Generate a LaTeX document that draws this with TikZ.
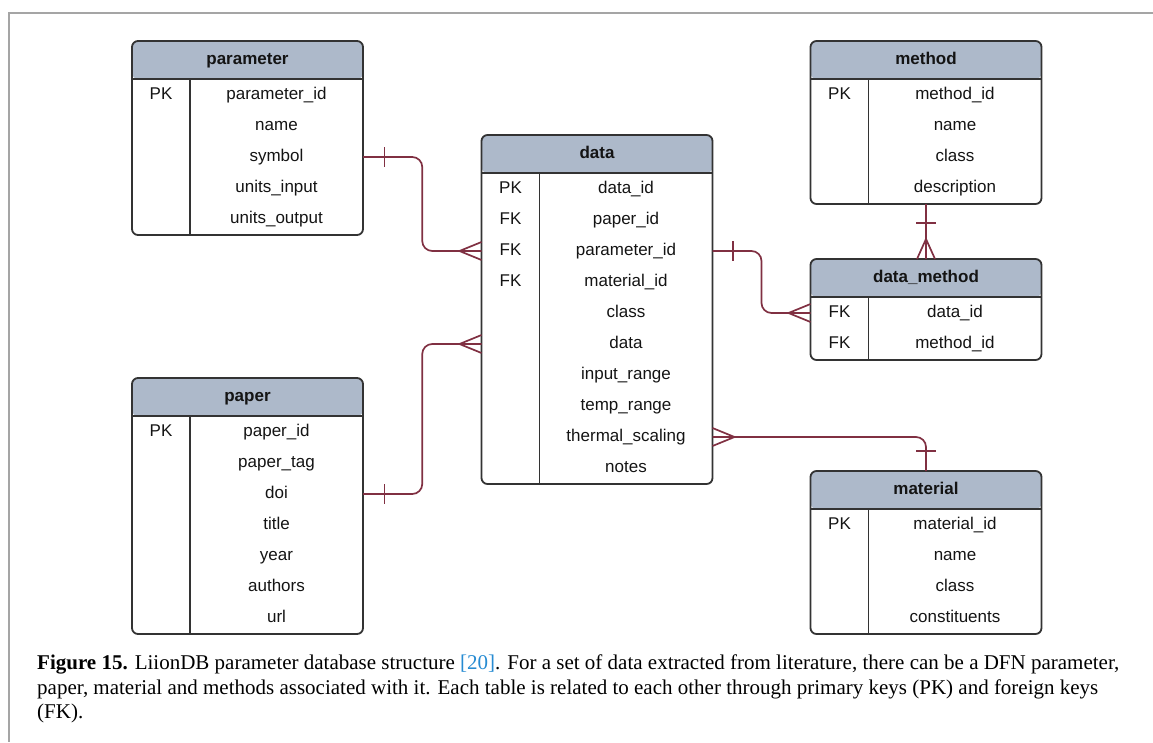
\documentclass[tikz,border=0pt]{standalone}
\usepackage{fontspec}
\setmainfont{Liberation Sans}
\newfontfamily\capfont{Liberation Serif}
\usepackage{tikz}
\usetikzlibrary{calc,positioning}

\definecolor{hdrblue}{RGB}{173,185,202}
\definecolor{edgegray}{RGB}{51,51,51}
\definecolor{relred}{RGB}{128,48,66}
\definecolor{citeblue}{RGB}{38,139,210}
\definecolor{framegray}{RGB}{165,165,165}

\begin{document}
\begin{tikzpicture}[
    x=1pt, y=-1pt,
    tbl/.style={rectangle, draw=edgegray, line width=1.8pt, rounded corners=6pt, minimum width=231pt,
      inner sep=0pt, outer sep=0pt,
      path picture={\fill[hdrblue] (path picture bounding box.north west) rectangle ($(path picture bounding box.north east)+(0,38)$);}},
    field/.style={font=\fontsize{17}{20}\selectfont, text height=12pt, text depth=3.5pt, inner sep=0pt, text=black!92},
    head/.style={field, font=\fontsize{17}{20}\selectfont\bfseries},
    sep/.style={draw=edgegray, line width=1.8pt},
    rel/.style={draw=relred, line width=1.7pt},
    route/.style={rel, rounded corners=10pt}
]
\useasboundingbox (0,0) rectangle (1153,742);
\draw[framegray, line width=1.3pt] (1153,13) -- (9,13) -- (9,742);

% parameter
\node[tbl, minimum height=194pt, anchor=north] (parameter) at (247.5,41) {};
\node[head] (parameter-h) at ($(parameter.north)+(0,19.5)$) {parameter};
\draw[sep] ($(parameter.north west)+(0,38)$) -- ($(parameter.north east)+(0,38)$);
\draw[sep] ($(parameter.north west)+(58,38)$) -- ($(parameter.south west)+(58,0)$);
\foreach \k/\f [count=\i] in {PK/parameter\_id, /name, /symbol, /units\_input, /units\_output}
  \node[field] (parameter-\i) at ($(parameter.north)+(29,23+31*\i)$) {\f}
    node[field] (parameter-k\i) at ($(parameter.north west)+(29,23+31*\i)$) {\k};

% paper
\node[tbl, minimum height=256pt, anchor=north] (paper) at (247.5,378) {};
\node[head] (paper-h) at ($(paper.north)+(0,19.5)$) {paper};
\draw[sep] ($(paper.north west)+(0,38)$) -- ($(paper.north east)+(0,38)$);
\draw[sep] ($(paper.north west)+(58,38)$) -- ($(paper.south west)+(58,0)$);
\foreach \k/\f [count=\i] in {PK/paper\_id, /paper\_tag, /doi, /title, /year, /authors, /url}
  \node[field] (paper-\i) at ($(paper.north)+(29,23+31*\i)$) {\f}
    node[field] (paper-k\i) at ($(paper.north west)+(29,23+31*\i)$) {\k};

% data
\node[tbl, minimum height=349pt, anchor=north] (data) at (597,135) {};
\node[head] (data-h) at ($(data.north)+(0,19.5)$) {data};
\draw[sep] ($(data.north west)+(0,38)$) -- ($(data.north east)+(0,38)$);
\draw[sep] ($(data.north west)+(58,38)$) -- ($(data.south west)+(58,0)$);
\foreach \k/\f [count=\i] in {PK/data\_id, FK/paper\_id, FK/parameter\_id, FK/material\_id, /class,
    /data, /input\_range, /temp\_range, /thermal\_scaling, /notes}
  \node[field] (data-\i) at ($(data.north)+(29,23+31*\i)$) {\f}
    node[field] (data-k\i) at ($(data.north west)+(29,23+31*\i)$) {\k};

% method
\node[tbl, minimum height=163pt, anchor=north] (method) at (926,41) {};
\node[head] (method-h) at ($(method.north)+(0,19.5)$) {method};
\draw[sep] ($(method.north west)+(0,38)$) -- ($(method.north east)+(0,38)$);
\draw[sep] ($(method.north west)+(58,38)$) -- ($(method.south west)+(58,0)$);
\foreach \k/\f [count=\i] in {PK/method\_id, /name, /class, /description}
  \node[field] (method-\i) at ($(method.north)+(29,23+31*\i)$) {\f}
    node[field] (method-k\i) at ($(method.north west)+(29,23+31*\i)$) {\k};

% data_method
\node[tbl, minimum height=101pt, anchor=north] (datamethod) at (926,259) {};
\node[head] (datamethod-h) at ($(datamethod.north)+(0,19.5)$) {data\_method};
\draw[sep] ($(datamethod.north west)+(0,38)$) -- ($(datamethod.north east)+(0,38)$);
\draw[sep] ($(datamethod.north west)+(58,38)$) -- ($(datamethod.south west)+(58,0)$);
\foreach \k/\f [count=\i] in {FK/data\_id, FK/method\_id}
  \node[field] (datamethod-\i) at ($(datamethod.north)+(29,23+31*\i)$) {\f}
    node[field] (datamethod-k\i) at ($(datamethod.north west)+(29,23+31*\i)$) {\k};

% material
\node[tbl, minimum height=163pt, anchor=north] (material) at (926,471) {};
\node[head] (material-h) at ($(material.north)+(0,19.5)$) {material};
\draw[sep] ($(material.north west)+(0,38)$) -- ($(material.north east)+(0,38)$);
\draw[sep] ($(material.north west)+(58,38)$) -- ($(material.south west)+(58,0)$);
\foreach \k/\f [count=\i] in {PK/material\_id, /name, /class, /constituents}
  \node[field] (material-\i) at ($(material.north)+(29,23+31*\i)$) {\f}
    node[field] (material-k\i) at ($(material.north west)+(29,23+31*\i)$) {\k};

% relations
\draw[route] (parameter.east |- parameter-3) -| ($(parameter.east |- parameter-3)!.5!(data.west |- data-3)$) |- (data.west |- data-3);
\draw[rel] ($(parameter.east |- parameter-3)+(21.5,-10)$) -- ++(0,20);
\draw[rel] ($(data.west |- data-3)+(0,-9)$) -- ++(-22,9) -- ++(22,9);

\draw[route] (paper.east |- paper-3) -| ($(paper.east |- paper-3)!.5!(data.west |- data-6)$) |- (data.west |- data-6);
\draw[rel] ($(paper.east |- paper-3)+(21.5,-10)$) -- ++(0,20);
\draw[rel] ($(data.west |- data-6)+(0,-9)$) -- ++(-22,9) -- ++(22,9);

\draw[route] (data.east |- data-3) -| ($(data.east |- data-3)!.5!(datamethod.west |- datamethod-1)$) |- (datamethod.west |- datamethod-1);
\draw[rel] ($(data.east |- data-3)+(20.5,-10)$) -- ++(0,20);
\draw[rel] ($(datamethod.west |- datamethod-1)+(0,-9)$) -- ++(-22,9) -- ++(22,9);

\draw[rel] (method.south) -- (datamethod.north);
\draw[rel] ($(method.south)+(-10,19)$) -- ++(20,0);
\draw[rel] ($(datamethod.north)+(-9,0)$) -- ++(9,-20) -- ++(9,20);

\draw[route] (data.east |- data-9) -| (material.north);
\draw[rel] ($(data.east |- data-9)+(0,-9)$) -- ++(22,9) -- ++(-22,9);
\draw[rel] ($(material.north)+(-10,-20)$) -- ++(20,0);

% caption
\node[anchor=north west, inner sep=0pt, align=left, font=\capfont\fontsize{21}{24.5}\selectfont] (caption) at (37,655)
  {\textbf{Figure 15.} LiionDB parameter database structure \textcolor{citeblue}{[20]}. For a set of data extracted from literature, there can be a DFN parameter,\\
   paper, material and methods associated with it. Each table is related to each other through primary keys (PK) and foreign keys\\
   (FK).};
\end{tikzpicture}
\end{document}
